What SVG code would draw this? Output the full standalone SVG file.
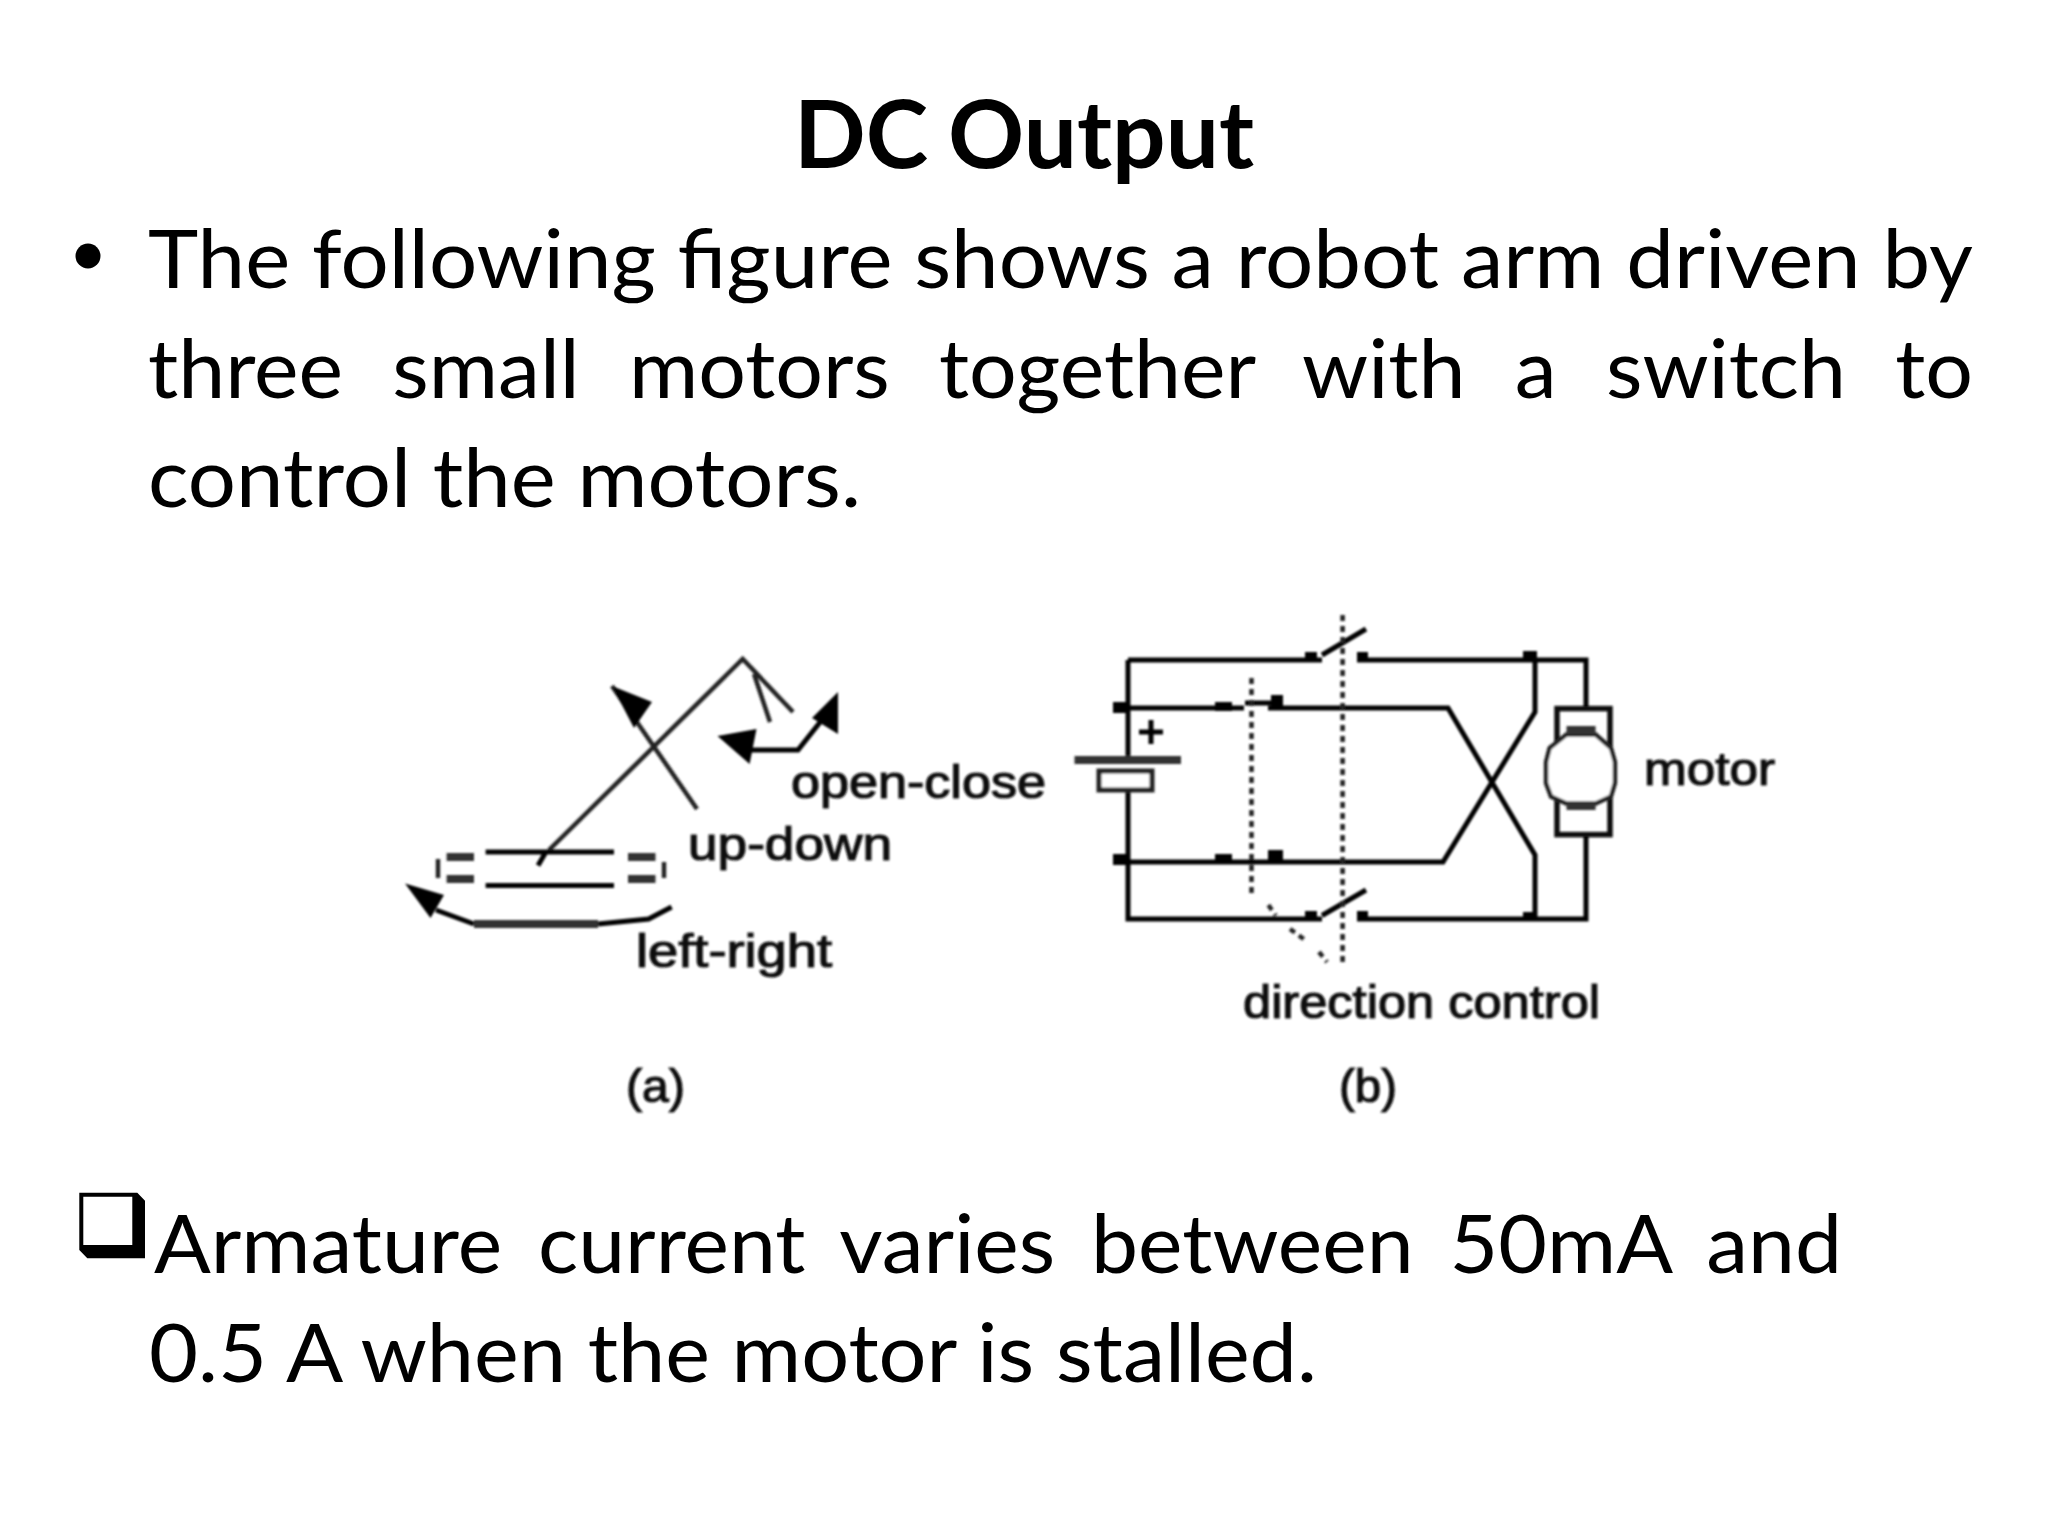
<svg xmlns="http://www.w3.org/2000/svg" width="2048" height="1536" viewBox="0 0 2048 1536">
<defs>
<filter id="soft" x="-5%" y="-5%" width="110%" height="110%"><feGaussianBlur stdDeviation="1"/></filter>
</defs>
<style>
text{fill:#000}
.b{font-family:"Lato","Carlito","Liberation Sans",sans-serif;font-size:82px}
.t{font-family:"Lato","Carlito","Liberation Sans",sans-serif;font-size:94px;font-weight:700}
.f{font-family:"Liberation Sans","DejaVu Sans",sans-serif;font-size:46px;fill:#111;stroke:#111;stroke-width:1.2}
.l{fill:none;stroke:#000;stroke-width:5}
.g{fill:none;stroke:#222;stroke-width:4.5}
.h{fill:none;stroke:#333;stroke-width:8}
.d{fill:none;stroke:#222;stroke-width:4.5;stroke-dasharray:6 5}
.s{fill:#000}
</style>
<rect width="2048" height="1536" fill="#fff"/>
<g id="title"><text class="t" x="794" y="168" textLength="460" lengthAdjust="spacingAndGlyphs" word-spacing="-3">DC Output</text></g>
<g id="bullet-1">
<circle cx="88" cy="256" r="12.5" fill="#000"/>
<text class="b" x="148" y="288" textLength="1825" lengthAdjust="spacingAndGlyphs">The following figure shows a robot arm driven by</text>
<text class="b" x="148" y="398" textLength="1825" lengthAdjust="spacingAndGlyphs" word-spacing="27">three small motors together with a switch to</text>
<text class="b" x="148" y="507" textLength="713" lengthAdjust="spacingAndGlyphs">control the motors.</text>
</g>
<g id="figure-a" filter="url(#soft)">
<path class="g" d="M549 850L742.7 659L793 712M754 674L770 722M612 686L697 809"/>
<path class="s" d="M612 686L652 702L634 728Z"/>
<path class="l" d="M749.6 750H798L821 721"/>
<path class="s" d="M717.5 736L756.5 729L749.6 764ZM838 692L812 718L838 734Z"/>
<path class="l" d="M485.6 852H614M485.6 885.5H614M545 853.4L538 865.5"/>
<path class="h" d="M446.6 857H474M446.6 879H474M628 857H655.5M628 879H655.5"/>
<path class="g" d="M438 859V878M664 862V878"/>
<path class="s" d="M405 883.4L444 895L430.5 918Z"/>
<path class="l" d="M436 910L474 924M598 924L648.6 919L671.6 907"/>
<path class="h" d="M474 924H598"/>
<text class="f" x="791" y="798" textLength="255" lengthAdjust="spacingAndGlyphs">open-close</text>
<text class="f" x="688" y="860" textLength="204" lengthAdjust="spacingAndGlyphs">up-down</text>
<text class="f" x="636" y="967" textLength="196" lengthAdjust="spacingAndGlyphs">left-right</text>
<text class="f" x="626" y="1102" textLength="59" lengthAdjust="spacingAndGlyphs">(a)</text>
</g>
<g id="figure-b" filter="url(#soft)">
<g id="wires">
<path class="l" d="M1128 660V760M1128 790V919H1322M1128 660H1322M1357 660H1586V708M1357 919H1586V834M1113 862H1443L1535 712V660M1113 708H1244M1268 708H1448L1535 855V919"/>
<path class="l" d="M1322 655L1366 629M1322 915.5L1366 890M1245 703H1272"/>
</g>
<path class="d" d="M1342.6 615V967M1251.5 678V895M1268.4 905L1275.7 915.5M1290 929L1305 940M1319 952L1327 962"/>
<g id="contacts">
<path class="s" d="M1305 652h12v8h-12zM1357 652h11v8h-11zM1523 651h14v9h-14zM1523 912h14v8h-14zM1305 911h12v8h-12zM1357 911h11v8h-11zM1113 702h15v11h-15zM1113 854h15v11h-15zM1215 702h17v9h-17zM1271 695h12v14h-12zM1215 854h17v10h-17zM1268 850h15v14h-15z"/>
</g>
<g id="battery">
<path class="h" d="M1074.5 760H1181"/>
<rect x="1099" y="771" width="53" height="19" fill="#fff" stroke="#222" stroke-width="5"/>
<path class="l" d="M1151 720V744M1139 732H1163"/>
</g>
<g id="motor-symbol">
<rect x="1557" y="708.6" width="53" height="126" fill="none" stroke="#111" stroke-width="5.5"/>
<path d="M1566.5 734.5L1549.6 748L1546 762V783L1551 796.5L1566.5 803.5H1595.6L1611 796.5L1615 783V762L1611 748L1595.6 734.5Z" fill="#fff" stroke="#222" stroke-width="4.5"/>
<path class="h" d="M1566.5 730H1595.6M1566.5 806H1595.6"/>
</g>
<text class="f" x="1644" y="785" textLength="131" lengthAdjust="spacingAndGlyphs">motor</text>
<text class="f" x="1243" y="1018" textLength="357" lengthAdjust="spacingAndGlyphs">direction control</text>
<text class="f" x="1339" y="1102" textLength="58" lengthAdjust="spacingAndGlyphs">(b)</text>
</g>
<g id="bullet-2">
<path fill-rule="evenodd" d="M79.3 1192.7H137.3L145 1200.7V1258.3H87.3L79.3 1250ZM83.3 1196.7V1245H132.3V1196.7Z" fill="#000"/>
<text class="b" x="154" y="1273" textLength="1688" lengthAdjust="spacingAndGlyphs" word-spacing="14">Armature current varies between 50mA and</text>
<text class="b" x="149" y="1382" textLength="1168" lengthAdjust="spacingAndGlyphs">0.5 A when the motor is stalled.</text>
</g>
</svg>
